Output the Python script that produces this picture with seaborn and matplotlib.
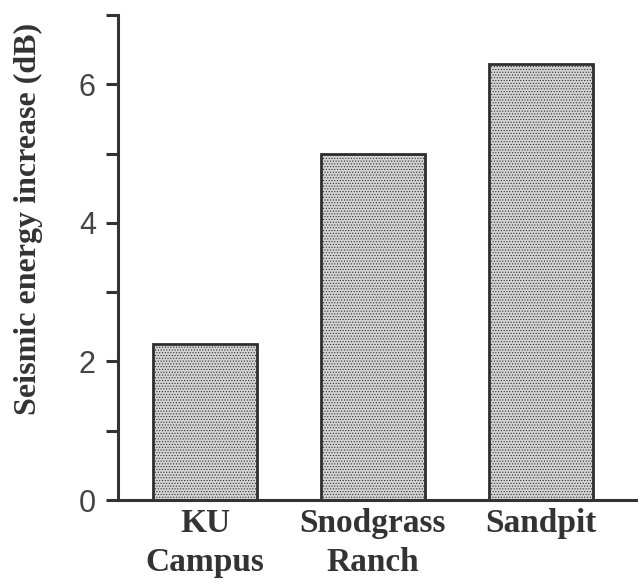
import matplotlib
matplotlib.use("Agg")
import matplotlib.pyplot as plt
import seaborn as sns
import pandas as pd

sites = ["KU\nCampus", "Snodgrass\nRanch", "Sandpit"]
energy_db = [2.25, 5.0, 6.3]
ytick_vals = [0, 1, 2, 3, 4, 5, 6, 7]
ytick_labels = ["0", "", "2", "", "4", "", "6", ""]

sns.set_style("white")
plt.rcParams["hatch.color"] = "#9a9a9a"
plt.rcParams["hatch.linewidth"] = 0.5

df = pd.DataFrame({"site": sites, "energy": energy_db})

fig = plt.figure(figsize=(6.38, 5.82), dpi=100)
ax = fig.add_axes([118/638, 1-500/582, 520/638, 485/582])

sns.barplot(data=df, x="site", y="energy", ax=ax, width=0.62,
            color="#d6d6d6", edgecolor="#2e2e2e", linewidth=2.0, saturation=1)
for p in ax.patches:
    p.set_hatch("......")
    p.set_facecolor("#d4d4d4")

ax.set_ylim(0, 7)
ax.set_xlim(-0.518, 2.58)

ax.set_yticks(ytick_vals)
ax.set_yticklabels(ytick_labels, fontsize=22, family="Liberation Sans", color="#444444")
ax.tick_params(axis="y", direction="out", length=9, width=2.2, color="#333333", left=True, pad=7)
ax.tick_params(axis="x", length=0, pad=6)
for lab in ax.get_xticklabels():
    lab.set_family("Liberation Serif")
    lab.set_fontweight("bold")
    lab.set_fontsize(24)
    lab.set_color("#333333")
    lab.set_linespacing(1.3)

ax.set_xlabel("")
ax.set_ylabel("Seismic energy increase (dB)", fontsize=23, family="Liberation Serif",
              fontweight="bold", color="#333333")
ax.yaxis.set_label_coords(-0.145, 0.58)

for s in ["top", "right"]:
    ax.spines[s].set_visible(False)
for s in ["left", "bottom"]:
    ax.spines[s].set_linewidth(2.2)
    ax.spines[s].set_color("#333333")

fig.savefig("out.png", dpi=100)
